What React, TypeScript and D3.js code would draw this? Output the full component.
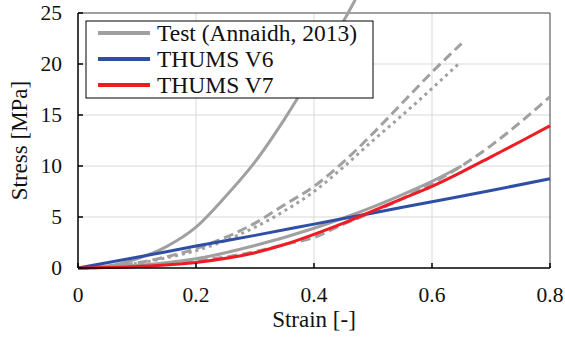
import React, { useEffect, useRef } from "react";
import * as d3 from "d3";

const xTicks = [0, 0.2, 0.4, 0.6, 0.8];
const yTicks = [0, 5, 10, 15, 20, 25];

// Test (Annaidh, 2013) curves
const testSteep: [number, number][] = [
  [0, 0], [0.05, 0.2], [0.1, 0.9], [0.15, 2.1], [0.2, 4.0], [0.25, 7.0],
  [0.3, 10.4], [0.35, 14.6], [0.4, 19.3], [0.45, 24.2], [0.47, 26.3],
];
const testDashedUpper: [number, number][] = [
  [0, 0], [0.05, 0.15], [0.1, 0.5], [0.15, 1.1], [0.2, 1.9], [0.25, 3.0],
  [0.3, 4.4], [0.35, 6.2], [0.4, 8.0], [0.45, 10.4], [0.5, 13.2],
  [0.55, 16.2], [0.6, 19.2], [0.65, 22.0],
];
const testDotted: [number, number][] = [
  [0, 0], [0.05, 0.15], [0.1, 0.45], [0.15, 1.0], [0.2, 1.7], [0.25, 2.7],
  [0.3, 4.0], [0.35, 5.6], [0.4, 7.5], [0.45, 9.9], [0.5, 12.5],
  [0.55, 15.0], [0.6, 17.6], [0.645, 20.0],
];
const testSolidLower: [number, number][] = [
  [0, 0], [0.1, 0.25], [0.2, 0.9], [0.3, 2.2], [0.4, 3.9], [0.45, 4.9],
  [0.5, 6.0], [0.55, 7.2], [0.6, 8.5], [0.65, 10.0],
];
const testDashedLower: [number, number][] = [
  [0, 0], [0.1, 0.2], [0.2, 0.7], [0.3, 1.6], [0.35, 2.3], [0.4, 3.0],
  [0.45, 4.3], [0.5, 5.5], [0.55, 6.8], [0.6, 8.3], [0.65, 10.0],
  [0.7, 12.0], [0.75, 14.3], [0.8, 16.8],
];
const thumsV6: [number, number][] = [
  [0, 0], [0.1, 1.05], [0.2, 2.15], [0.3, 3.2], [0.4, 4.3], [0.5, 5.4],
  [0.6, 6.5], [0.7, 7.6], [0.8, 8.75],
];
const thumsV7: [number, number][] = [
  [0, 0], [0.1, 0.15], [0.2, 0.55], [0.3, 1.5], [0.35, 2.3], [0.4, 3.3],
  [0.45, 4.4], [0.5, 5.6], [0.55, 6.8], [0.6, 8.0], [0.65, 9.4],
  [0.7, 10.9], [0.75, 12.4], [0.8, 13.95],
];

const legendLabels = ["Test (Annaidh, 2013)", "THUMS V6", "THUMS V7"];

const GRAY = "#a0a0a0";
const BLUE = "#2f4ea6";
const RED = "#ee1c25";

const W = 565, H = 339;
const left = 78, right = 550, top = 13, bottom = 268;

export default function App() {
  const ref = useRef<SVGSVGElement | null>(null);

  useEffect(() => {
    const svg = d3.select(ref.current);
    svg.selectAll("*").remove();
    const x = d3.scaleLinear().domain([0, 0.8]).range([left, right]);
    const y = d3.scaleLinear().domain([0, 25]).range([bottom, top]);
    const line = d3.line<[number, number]>()
      .x((d) => x(d[0]))
      .y((d) => y(d[1]))
      .curve(d3.curveMonotoneX);

    svg.append("rect").attr("x", 0).attr("y", 0).attr("width", W).attr("height", H).attr("fill", "#fff");

    xTicks.slice(1, -1).forEach((t) => {
      svg.append("line").attr("x1", x(t)).attr("x2", x(t)).attr("y1", top).attr("y2", bottom)
        .attr("stroke", "#d9d9d9").attr("stroke-width", 1);
    });
    yTicks.slice(1, -1).forEach((t) => {
      svg.append("line").attr("x1", left).attr("x2", right).attr("y1", y(t)).attr("y2", y(t))
        .attr("stroke", "#d9d9d9").attr("stroke-width", 1);
    });
    svg.append("line").attr("x1", left).attr("x2", right).attr("y1", top).attr("y2", top)
      .attr("stroke", "#404040").attr("stroke-width", 1);
    svg.append("line").attr("x1", right).attr("x2", right).attr("y1", top).attr("y2", bottom)
      .attr("stroke", "#404040").attr("stroke-width", 1);

    const series = [
      { data: testSolidLower, color: GRAY, dash: null },
      { data: testDashedLower, color: GRAY, dash: "10,5" },
      { data: testDotted, color: GRAY, dash: "3,4" },
      { data: testDashedUpper, color: GRAY, dash: "10,5" },
      { data: testSteep, color: GRAY, dash: null },
      { data: thumsV6, color: BLUE, dash: null },
      { data: thumsV7, color: RED, dash: null },
    ];
    series.forEach((s) => {
      const p = svg.append("path").attr("d", line(s.data) || "").attr("fill", "none")
        .attr("stroke", s.color).attr("stroke-width", 3).attr("stroke-linejoin", "round");
      if (s.dash) p.attr("stroke-dasharray", s.dash);
    });

    svg.append("line").attr("x1", left).attr("x2", left).attr("y1", top).attr("y2", bottom)
      .attr("stroke", "#000").attr("stroke-width", 1.5);
    svg.append("line").attr("x1", left).attr("x2", right).attr("y1", bottom).attr("y2", bottom)
      .attr("stroke", "#000").attr("stroke-width", 1.5);

    const txt = (xx: number, yy: number, s: string, size: number, anchor: string) =>
      svg.append("text").attr("x", xx).attr("y", yy).attr("text-anchor", anchor)
        .attr("font-size", size).attr("fill", "#111")
        .attr("font-family", "Liberation Serif")
        .style("font-family", '"Liberation Serif"')
        .text(s);

    yTicks.forEach((t) => {
      svg.append("line").attr("x1", left).attr("x2", left + 5).attr("y1", y(t)).attr("y2", y(t))
        .attr("stroke", "#000").attr("stroke-width", 1.5);
      txt(62, y(t) + 7, String(t), 21.5, "end");
    });
    xTicks.forEach((t) => {
      svg.append("line").attr("x1", x(t)).attr("x2", x(t)).attr("y1", bottom).attr("y2", bottom - 5)
        .attr("stroke", "#000").attr("stroke-width", 1.5);
      txt(x(t), 302, String(t), 21.5, "middle");
    });
    txt((left + right) / 2, 327, "Strain [-]", 23, "middle");
    txt(0, 0, "Stress [MPa]", 23, "middle")
      .attr("transform", `translate(27, ${(top + bottom) / 2}) rotate(-90)`);

    svg.append("rect").attr("x", 86).attr("y", 21).attr("width", 287).attr("height", 77)
      .attr("fill", "#fff").attr("stroke", "#000").attr("stroke-width", 1);
    const legendColors = [GRAY, BLUE, RED];
    legendLabels.forEach((lab, i) => {
      const ly = 33 + i * 26;
      svg.append("line").attr("x1", 98).attr("x2", 150).attr("y1", ly).attr("y2", ly)
        .attr("stroke", legendColors[i]).attr("stroke-width", 4);
      txt(157, ly + 8, lab, 23.5, "start");
    });
  }, []);

  return (
    <svg ref={ref} width={W} height={H} style={{ position: "absolute", left: 0, top: 0 }} />
  );
}
